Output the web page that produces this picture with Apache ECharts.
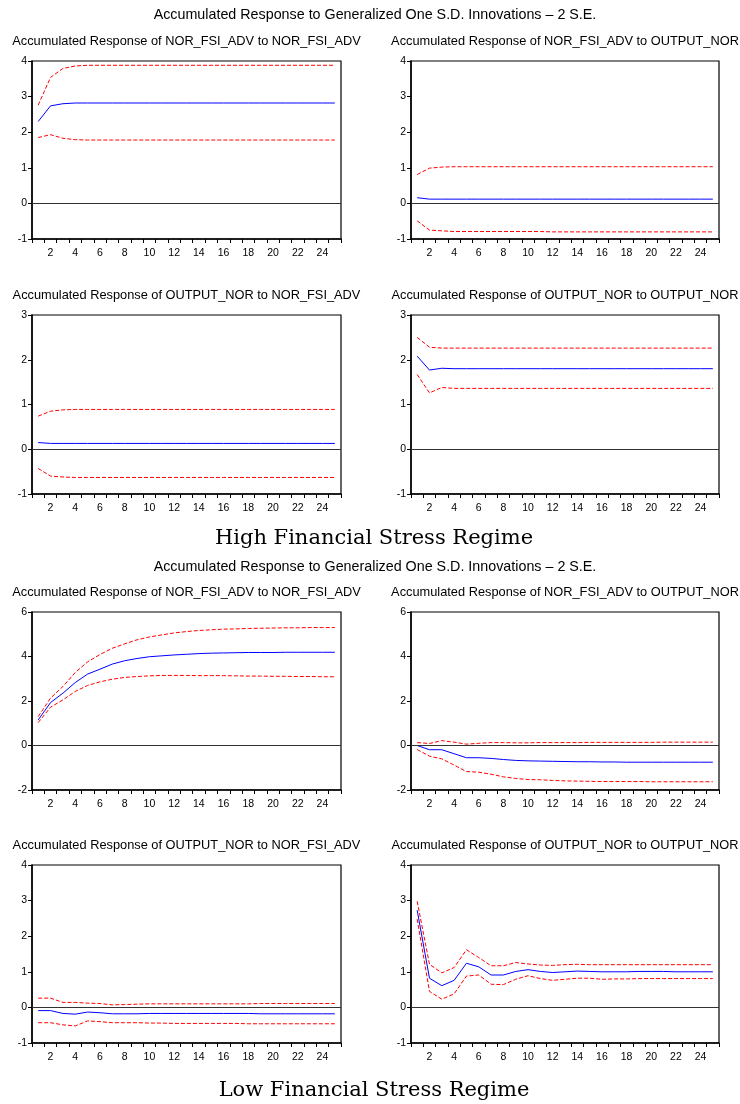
<!DOCTYPE html>
<html>
<head>
<meta charset="utf-8">
<title>Accumulated Responses</title>
<script src="https://cdn.jsdelivr.net/npm/echarts@6/dist/echarts.min.js"></script>
<style>
  html, body { margin: 0; padding: 0; background: #fff; }
  #main { width: 740px; height: 1104px; }
</style>
</head>
<body>
<div id="main"></div>
<script>
// periods 1..25
var periods = [];
for (var p = 1; p <= 25; p++) periods.push(String(p));

// High financial stress regime
var hiFsiFsi   = [2.30, 2.74, 2.80, 2.82, 2.82, 2.82, 2.82, 2.82, 2.82, 2.82, 2.82, 2.82, 2.82, 2.82, 2.82, 2.82, 2.82, 2.82, 2.82, 2.82, 2.82, 2.82, 2.82, 2.82, 2.82];
var hiFsiFsiUp = [2.76, 3.54, 3.79, 3.86, 3.88, 3.88, 3.88, 3.88, 3.88, 3.88, 3.88, 3.88, 3.88, 3.88, 3.88, 3.88, 3.88, 3.88, 3.88, 3.88, 3.88, 3.88, 3.88, 3.88, 3.88];
var hiFsiFsiLo = [1.85, 1.93, 1.83, 1.79, 1.78, 1.78, 1.78, 1.78, 1.78, 1.78, 1.78, 1.78, 1.78, 1.78, 1.78, 1.78, 1.78, 1.78, 1.78, 1.78, 1.78, 1.78, 1.78, 1.78, 1.78];

var hiFsiOut   = [0.16, 0.12, 0.12, 0.12, 0.12, 0.12, 0.12, 0.12, 0.12, 0.12, 0.12, 0.12, 0.12, 0.12, 0.12, 0.12, 0.12, 0.12, 0.12, 0.12, 0.12, 0.12, 0.12, 0.12, 0.12];
var hiFsiOutUp = [0.81, 0.99, 1.02, 1.03, 1.03, 1.03, 1.03, 1.03, 1.03, 1.03, 1.03, 1.03, 1.03, 1.03, 1.03, 1.03, 1.03, 1.03, 1.03, 1.03, 1.03, 1.03, 1.03, 1.03, 1.03];
var hiFsiOutLo = [-0.49, -0.75, -0.77, -0.79, -0.79, -0.79, -0.79, -0.79, -0.79, -0.79, -0.79, -0.80, -0.80, -0.80, -0.80, -0.80, -0.80, -0.80, -0.80, -0.80, -0.80, -0.80, -0.80, -0.80, -0.80];

var hiOutFsi   = [0.15, 0.13, 0.13, 0.13, 0.13, 0.13, 0.13, 0.13, 0.13, 0.13, 0.13, 0.13, 0.13, 0.13, 0.13, 0.13, 0.13, 0.13, 0.13, 0.13, 0.13, 0.13, 0.13, 0.13, 0.13];
var hiOutFsiUp = [0.74, 0.85, 0.88, 0.89, 0.89, 0.89, 0.89, 0.89, 0.89, 0.89, 0.89, 0.89, 0.89, 0.89, 0.89, 0.89, 0.89, 0.89, 0.89, 0.89, 0.89, 0.89, 0.89, 0.89, 0.89];
var hiOutFsiLo = [-0.43, -0.60, -0.62, -0.63, -0.63, -0.63, -0.63, -0.63, -0.63, -0.63, -0.63, -0.63, -0.63, -0.63, -0.63, -0.63, -0.63, -0.63, -0.63, -0.63, -0.63, -0.63, -0.63, -0.63, -0.63];

var hiOutOut   = [2.08, 1.77, 1.81, 1.80, 1.80, 1.80, 1.80, 1.80, 1.80, 1.80, 1.80, 1.80, 1.80, 1.80, 1.80, 1.80, 1.80, 1.80, 1.80, 1.80, 1.80, 1.80, 1.80, 1.80, 1.80];
var hiOutOutUp = [2.50, 2.28, 2.26, 2.26, 2.26, 2.26, 2.26, 2.26, 2.26, 2.26, 2.26, 2.26, 2.26, 2.26, 2.26, 2.26, 2.26, 2.26, 2.26, 2.26, 2.26, 2.26, 2.26, 2.26, 2.26];
var hiOutOutLo = [1.67, 1.26, 1.38, 1.36, 1.36, 1.36, 1.36, 1.36, 1.36, 1.36, 1.36, 1.36, 1.36, 1.36, 1.36, 1.36, 1.36, 1.36, 1.36, 1.36, 1.36, 1.36, 1.36, 1.36, 1.36];

// Low financial stress regime
var loFsiFsi   = [1.15, 1.93, 2.35, 2.83, 3.21, 3.43, 3.66, 3.81, 3.91, 3.99, 4.03, 4.07, 4.10, 4.13, 4.15, 4.16, 4.17, 4.18, 4.18, 4.18, 4.19, 4.19, 4.19, 4.19, 4.19];
var loFsiFsiUp = [1.30, 2.13, 2.65, 3.28, 3.76, 4.09, 4.37, 4.57, 4.75, 4.88, 4.97, 5.06, 5.12, 5.17, 5.20, 5.23, 5.24, 5.26, 5.27, 5.28, 5.29, 5.29, 5.30, 5.30, 5.30];
var loFsiFsiLo = [1.03, 1.72, 2.05, 2.43, 2.70, 2.86, 2.98, 3.06, 3.10, 3.13, 3.15, 3.15, 3.15, 3.14, 3.14, 3.14, 3.13, 3.12, 3.12, 3.11, 3.11, 3.10, 3.10, 3.09, 3.09];

var loFsiOut   = [0.00, -0.19, -0.19, -0.37, -0.55, -0.55, -0.58, -0.63, -0.67, -0.69, -0.70, -0.71, -0.72, -0.73, -0.73, -0.74, -0.74, -0.75, -0.75, -0.75, -0.75, -0.75, -0.75, -0.75, -0.75];
var loFsiOutUp = [0.13, 0.09, 0.22, 0.15, 0.06, 0.10, 0.13, 0.13, 0.12, 0.12, 0.13, 0.13, 0.13, 0.13, 0.14, 0.14, 0.14, 0.14, 0.14, 0.14, 0.15, 0.15, 0.15, 0.15, 0.15];
var loFsiOutLo = [-0.18, -0.48, -0.60, -0.88, -1.17, -1.20, -1.29, -1.41, -1.48, -1.53, -1.54, -1.57, -1.59, -1.60, -1.61, -1.62, -1.62, -1.62, -1.62, -1.63, -1.63, -1.63, -1.63, -1.63, -1.63];

var loOutFsi   = [-0.09, -0.09, -0.17, -0.19, -0.13, -0.15, -0.18, -0.18, -0.18, -0.17, -0.17, -0.17, -0.17, -0.17, -0.17, -0.17, -0.17, -0.17, -0.18, -0.18, -0.18, -0.18, -0.18, -0.18, -0.18];
var loOutFsiUp = [0.26, 0.26, 0.14, 0.14, 0.12, 0.11, 0.07, 0.08, 0.09, 0.10, 0.10, 0.10, 0.10, 0.10, 0.10, 0.10, 0.10, 0.10, 0.11, 0.11, 0.11, 0.11, 0.11, 0.11, 0.11];
var loOutFsiLo = [-0.43, -0.43, -0.49, -0.52, -0.38, -0.40, -0.43, -0.43, -0.43, -0.44, -0.44, -0.45, -0.45, -0.45, -0.45, -0.45, -0.45, -0.46, -0.46, -0.46, -0.46, -0.46, -0.46, -0.46, -0.46];

var loOutOut   = [2.73, 0.82, 0.61, 0.76, 1.24, 1.14, 0.91, 0.91, 1.01, 1.06, 1.01, 0.98, 1.00, 1.02, 1.01, 1.00, 1.00, 1.00, 1.01, 1.01, 1.01, 1.00, 1.00, 1.00, 1.00];
var loOutOutUp = [2.98, 1.21, 0.97, 1.12, 1.62, 1.40, 1.17, 1.17, 1.26, 1.22, 1.19, 1.18, 1.20, 1.21, 1.20, 1.20, 1.20, 1.20, 1.20, 1.20, 1.20, 1.20, 1.20, 1.20, 1.20];
var loOutOutLo = [2.48, 0.45, 0.23, 0.38, 0.88, 0.91, 0.65, 0.64, 0.79, 0.89, 0.81, 0.76, 0.79, 0.82, 0.82, 0.79, 0.80, 0.80, 0.81, 0.81, 0.81, 0.81, 0.81, 0.81, 0.81];

var mainTitle = 'Accumulated Response to Generalized One S.D. Innovations \u2013 2 S.E.';
var panelTitles = [
  'Accumulated Response of NOR_FSI_ADV to NOR_FSI_ADV',
  'Accumulated Response of NOR_FSI_ADV to OUTPUT_NOR',
  'Accumulated Response of OUTPUT_NOR to NOR_FSI_ADV',
  'Accumulated Response of OUTPUT_NOR to OUTPUT_NOR'
];

var SANS = '"Liberation Sans", Arial, Helvetica, sans-serif';

// [left, top, width, height, yMin, yMax, yInterval, resp, up, lo, title]
var panels = [
  [32, 61, 309, 178, -1, 4, 1, hiFsiFsi, hiFsiFsiUp, hiFsiFsiLo, panelTitles[0]],
  [411, 61, 308, 178, -1, 4, 1, hiFsiOut, hiFsiOutUp, hiFsiOutLo, panelTitles[1]],
  [32, 315, 309, 179, -1, 3, 1, hiOutFsi, hiOutFsiUp, hiOutFsiLo, panelTitles[2]],
  [411, 315, 308, 179, -1, 3, 1, hiOutOut, hiOutOutUp, hiOutOutLo, panelTitles[3]],
  [32, 612, 309, 178, -2, 6, 2, loFsiFsi, loFsiFsiUp, loFsiFsiLo, panelTitles[0]],
  [411, 612, 308, 178, -2, 6, 2, loFsiOut, loFsiOutUp, loFsiOutLo, panelTitles[1]],
  [32, 865, 309, 178, -1, 4, 1, loOutFsi, loOutFsiUp, loOutFsiLo, panelTitles[2]],
  [411, 865, 308, 178, -1, 4, 1, loOutOut, loOutOutUp, loOutOutLo, panelTitles[3]]
];

var grids = [], xAxes = [], yAxes = [], series = [], texts = [];

function addText(str, x, y, size, family) {
  texts.push({
    type: 'text', x: x, y: y, silent: true,
    style: { text: str, fill: '#000', font: size + 'px ' + family, align: 'center', verticalAlign: 'middle' }
  });
}

panels.forEach(function (pn, i) {
  grids.push({ left: pn[0], top: pn[1], width: pn[2], height: pn[3], show: true, borderColor: '#000', borderWidth: 1.2, backgroundColor: '#fff' });
  xAxes.push({
    type: 'category', gridIndex: i, data: periods, boundaryGap: true,
    axisLine: { show: true, onZero: false, lineStyle: { color: '#000', width: 1.5 } },
    axisTick: { show: true, interval: 0, length: 4, lineStyle: { color: '#000' } },
    axisLabel: {
      interval: 0, color: '#000', fontSize: 10.5, fontFamily: SANS, margin: 9,
      formatter: function (v) { return (+v) % 2 === 0 ? v : ''; }
    },
    splitLine: { show: false }
  });
  yAxes.push({
    type: 'value', gridIndex: i, min: pn[4], max: pn[5], interval: pn[6],
    axisLine: { show: true, lineStyle: { color: '#000', width: 1.5 } },
    axisTick: { show: true, length: 4, lineStyle: { color: '#000' } },
    axisLabel: { color: '#000', fontSize: 10.5, fontFamily: SANS, margin: 5 },
    splitLine: { show: false }
  });
  series.push({
    type: 'line', xAxisIndex: i, yAxisIndex: i, data: pn[7], symbol: 'none', z: 4,
    lineStyle: { color: '#0000ff', width: 1 },
    markLine: {
      silent: true, symbol: 'none', label: { show: false },
      lineStyle: { color: '#333', width: 1, type: 'solid' },
      data: [{ yAxis: 0 }]
    }
  });
  series.push({
    type: 'line', xAxisIndex: i, yAxisIndex: i, data: pn[8], symbol: 'none', z: 3,
    lineStyle: { color: '#ff0000', width: 1, type: [4, 2] }
  });
  series.push({
    type: 'line', xAxisIndex: i, yAxisIndex: i, data: pn[9], symbol: 'none', z: 3,
    lineStyle: { color: '#ff0000', width: 1, type: [4, 2] }
  });
  addText(pn[10], pn[0] + pn[2] / 2, pn[1] - 20, 12.8, SANS);
});

addText(mainTitle, 375, 15, 14.3, SANS);
addText(mainTitle, 375, 567, 14.3, SANS);
addText('High Financial Stress Regime', 374, 539, 21, '"DejaVu Serif", serif');
addText('Low Financial Stress Regime', 374, 1091, 21, '"DejaVu Serif", serif');

var myChart = echarts.init(document.getElementById('main'));
myChart.setOption({
  animation: false,
  backgroundColor: '#fff',
  grid: grids,
  xAxis: xAxes,
  yAxis: yAxes,
  series: series,
  graphic: texts
});
</script>
</body>
</html>
